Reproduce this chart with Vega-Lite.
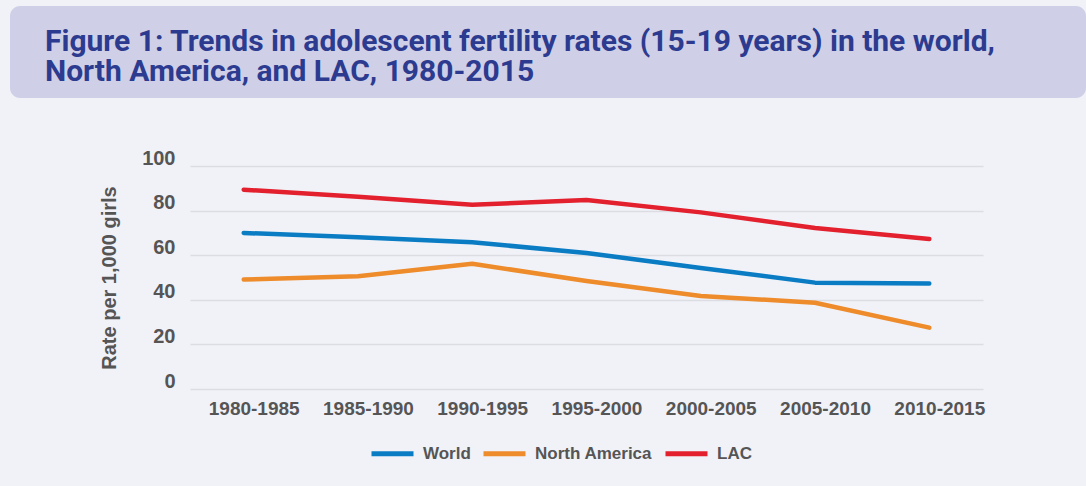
{
  "$schema": "https://vega.github.io/schema/vega-lite/v6.json",
  "background": "#f1f2f8",
  "padding": {"left": 7, "top": 6, "right": 0, "bottom": 24},
  "spacing": 50,
  "config": {"view": {"stroke": null}},
  "vconcat": [
    {
      "width": 1076,
      "height": 92,
      "view": {"fill": "#cfd0e7", "stroke": null, "cornerRadius": 10},
      "title": {
        "text": ["Figure 1: Trends in adolescent fertility rates (15-19 years) in the world,", "North America, and LAC, 1980-2015"],
        "anchor": "start",
        "frame": "group",
        "orient": "top",
        "baseline": "top",
        "offset": -81,
        "dx": 35,
        "font": "Roboto",
        "fontSize": 30,
        "fontWeight": "bold",
        "lineHeight": 30,
        "color": "#2c3b8f"
      },
      "data": {"values": [{"k": 1}]},
      "mark": {"type": "point", "opacity": 0},
      "encoding": {}
    },
    {
      "spacing": 0,
      "hconcat": [
        {
          "width": 1,
          "height": 1,
          "data": {"values": [{"k": 1}]},
          "mark": {"type": "point", "opacity": 0},
          "encoding": {}
        },
        {
          "width": 793,
          "height": 223,
          "data": {
            "values": [
              {"period": "1980-1985", "region": "World", "rate": 70},
              {"period": "1985-1990", "region": "World", "rate": 68},
              {"period": "1990-1995", "region": "World", "rate": 65.8},
              {"period": "1995-2000", "region": "World", "rate": 61},
              {"period": "2000-2005", "region": "World", "rate": 54.3},
              {"period": "2005-2010", "region": "World", "rate": 47.7},
              {"period": "2010-2015", "region": "World", "rate": 47.3},
              {"period": "1980-1985", "region": "North America", "rate": 49.1},
              {"period": "1985-1990", "region": "North America", "rate": 50.6},
              {"period": "1990-1995", "region": "North America", "rate": 56.2},
              {"period": "1995-2000", "region": "North America", "rate": 48.4},
              {"period": "2000-2005", "region": "North America", "rate": 41.7},
              {"period": "2005-2010", "region": "North America", "rate": 38.7},
              {"period": "2010-2015", "region": "North America", "rate": 27.5},
              {"period": "1980-1985", "region": "LAC", "rate": 89.4},
              {"period": "1985-1990", "region": "LAC", "rate": 86.2},
              {"period": "1990-1995", "region": "LAC", "rate": 82.6},
              {"period": "1995-2000", "region": "LAC", "rate": 84.8},
              {"period": "2000-2005", "region": "LAC", "rate": 79.2},
              {"period": "2005-2010", "region": "LAC", "rate": 72.2},
              {"period": "2010-2015", "region": "LAC", "rate": 67.3}
            ]
          },
          "mark": {"type": "line", "strokeWidth": 4.5, "strokeCap": "round", "strokeJoin": "round"},
          "encoding": {
            "x": {
              "field": "period",
              "type": "ordinal",
              "scale": {"type": "point", "padding": 0.47},
              "axis": {
                "title": " ",
                "titleX": -176,
                "titleY": -100,
                "titleAlign": "left",
                "titleBaseline": "top",
                "titleFontSize": 2,
                "domain": false,
                "ticks": false,
                "grid": false,
                "labelAngle": 0,
                "labelFont": "Liberation Sans",
                "labelFontSize": 19,
                "labelFontWeight": "bold",
                "labelColor": "#555555",
                "labelPadding": 10,
                "labelOffset": 10
              }
            },
            "y": {
              "field": "rate",
              "type": "quantitative",
              "scale": {"domain": [0, 100], "nice": false},
              "axis": {
                "title": "Rate per 1,000 girls",
                "titleFont": "Liberation Sans",
                "titleFontSize": 20,
                "titleFontWeight": "bold",
                "titleColor": "#555555",
                "titlePadding": 22,
                "values": [0, 20, 40, 60, 80, 100],
                "domain": false,
                "ticks": false,
                "grid": true,
                "gridColor": "#dcdde3",
                "gridWidth": 1.5,
                "labelFont": "Liberation Sans",
                "labelFontSize": 20,
                "labelFontWeight": "bold",
                "labelColor": "#555555",
                "labelPadding": 15,
                "labelOffset": -8
              }
            },
            "color": {
              "field": "region",
              "type": "nominal",
              "scale": {"domain": ["World", "North America", "LAC"], "range": ["#0a7cc4", "#ee8b2b", "#e3202d"]},
              "legend": {
                "title": null,
                "orient": "none",
                "direction": "horizontal",
                "legendX": 359,
                "legendY": 424,
                "symbolType": "stroke",
                "symbolSize": 1764,
                "symbolStrokeWidth": 5,
                "labelFont": "Liberation Sans",
                "labelFontSize": 17,
                "labelFontWeight": "bold",
                "labelColor": "#555555",
                "labelOffset": 7,
                "columnPadding": 2
              }
            }
          }
        }
      ]
    }
  ]
}
